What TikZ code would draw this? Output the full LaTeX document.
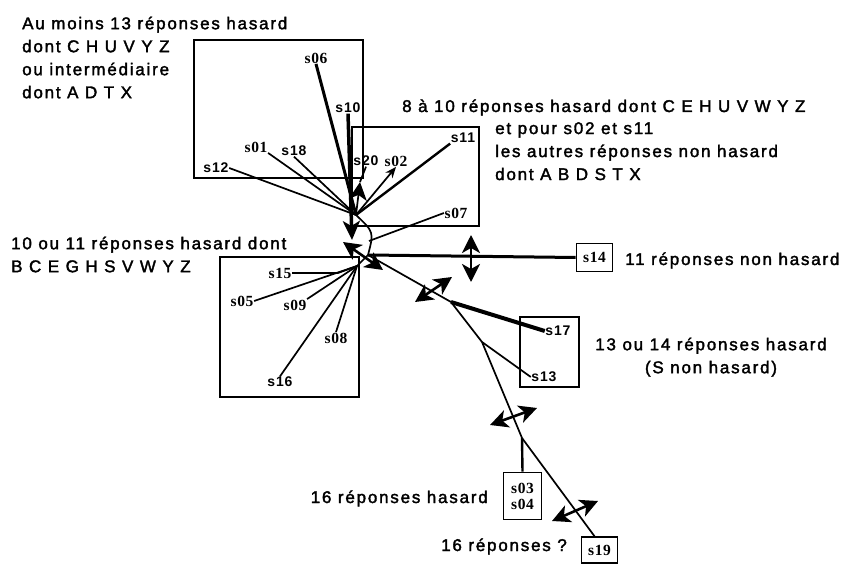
\documentclass[tikz,border=0pt]{standalone}
\usepackage{fontspec}
\setmainfont{Liberation Sans}
\newfontfamily\txtfont{Liberation Sans}[LetterSpace=10.5,FakeBold=2]
\newfontfamily\labfont{Liberation Serif}[LetterSpace=4]
\newfontfamily\labsfont{Liberation Sans}[LetterSpace=6]
\usetikzlibrary{arrows.meta}

\tikzset{
  txt/.style={font=\txtfont\fontsize{17}{23}\selectfont,inner sep=0pt,align=left},
  lab/.style={font=\labfont\bfseries\fontsize{15.5}{16}\selectfont,inner sep=0.5pt},
  labs/.style={font=\labsfont\bfseries\fontsize{14}{15}\selectfont,inner sep=0.5pt},
  leafbox/.style={lab,draw,line width=1.6pt,inner sep=2pt,align=center},
  frame/.style={line width=1.6pt},
  edge/.style={line width=1.7pt},
  heavy/.style={line width=3pt},
  split/.style={<->,line width=2.6pt},
}

\begin{document}
\begin{tikzpicture}[x=1pt,y=-1pt,>={Stealth[length=18pt,width=18pt,inset=5pt]}]
  \useasboundingbox (0,0) rectangle (854,564);
  % frames round the groups
  \draw[frame] (194,40) rectangle (363,178);
  \draw[frame] (352,127) rectangle (479,226);
  \draw[frame] (220,257) rectangle (359,397);
  \draw[frame] (520,317) rectangle (579,387);

  % comments on the groups
  \node[txt,anchor=north west] at (22,16.5) (txtA) {Au moins 13 réponses hasard\\dont C H U V Y Z\\ou intermédiaire\\dont A D T X};
  \node[txt,anchor=base west] at (402,112) (txtB) {8 à 10 réponses hasard dont C E H U V W Y Z};
  \node[txt,anchor=north west] at (495,122) (txtC) {et pour s02 et s11\\les autres réponses non hasard\\dont A B D S T X};
  \node[txt,anchor=north west] at (11,236.5) (txtD) {10 ou 11 réponses hasard dont\\B C E G H S V W Y Z};
  \node[txt,anchor=base west] at (625,265) (txtE) {11 réponses non hasard};
  \node[txt,anchor=north,align=center] at (711,337.5) (txtF) {13 ou 14 réponses hasard\\(S non hasard)};
  \node[txt,anchor=base east] at (488,503) (txtG) {16 réponses hasard};
  \node[txt,anchor=base east] at (567,551) (txtH) {16 réponses ?};

  % leaves
  \node[lab]  at (316,58)  (s06) {s06};
  \node[labs] at (348,108) (s10) {s10};
  \node[lab]  at (256,147) (s01) {s01};
  \node[labs] at (294,151) (s18) {s18};
  \node[labs] at (216,168) (s12) {s12};
  \node[labs] at (366,161) (s20) {s20};
  \node[lab]  at (396,161) (s02) {s02};
  \node[labs] at (463,138) (s11) {s11};
  \node[lab]  at (456,213) (s07) {s07};
  \node[lab]  at (280,273) (s15) {s15};
  \node[lab]  at (242,301) (s05) {s05};
  \node[lab]  at (295,305) (s09) {s09};
  \node[lab]  at (336,338) (s08) {s08};
  \node[labs] at (280,382) (s16) {s16};
  \node[labs] at (558,331) (s17) {s17};
  \node[labs] at (544,377) (s13) {s13};
  \node[leafbox,minimum width=36pt,minimum height=28pt] at (594.5,257.5) (s14) {s14};
  \node[leafbox,minimum width=38pt,minimum height=47pt] at (522.5,496) (s0304) {s03\\s04};
  \node[leafbox,minimum width=36pt,minimum height=26pt] at (599.5,550) (s19) {s19};

  % inner points of the tree
  \coordinate (jt) at (356,215);
  \coordinate (c) at (368,255);
  \coordinate (jb) at (357,266);
  \coordinate (j1) at (451,302);
  \coordinate (j2) at (482,342);
  \coordinate (j3) at (522,438);
  \coordinate (k10) at (352,240);
  \coordinate (k20) at (360,182);
  \coordinate (k07) at (369,241);
  \coordinate (k15) at (338,273);

  % top group
  \draw[heavy] (s06.south) -- (jt);
  \draw[line width=3.5pt,->,>={Stealth[length=19pt,width=17pt,inset=5pt]}] (s10.south) -- (k10);
  \draw[edge] (s01.south east) -- (jt);
  \draw[edge] (s18.south) -- (jt);
  \draw[edge] (s12.east) -- (jt);
  \draw[edge,->] (jt) -- (k20);
  \draw[edge] (k20) -- (s20.south);
  \draw[edge,<-,>={Stealth[length=11pt,width=9pt]}] (s02.south) -- (jt);
  \draw[line width=2.4pt] (s11.south west) -- (jt);
  \draw[edge] (s07.west) -- (k07);
  \draw[edge] (jt) .. controls (374,232) .. (c);

  % bottom left group
  \draw[edge] (s15.east) -- (k15) -- (jb);
  \draw[edge] (s05.east) -- (jb);
  \draw[edge] (s09.north east) -- (jb);
  \draw[edge] (s08.north) -- (jb);
  \draw[edge] (s16.north) -- (jb);

  % trunk
  \draw[edge] (c) -- (jb);
  \draw[heavy] (c) -- (s14.west);
  \draw[edge] (c) -- (j1);
  \draw[line width=4pt] (j1) -- (s17.west);
  \draw[edge] (j1) -- (j2) -- (j3);
  \draw[edge] (j2) -- (s13.west);
  \draw[line width=2.4pt] (j3) -- (s0304.north);
  \draw[edge] (j3) -- (s19.110);

  % splits
  \coordinate (a1) at (471,235);
  \coordinate (b1) at (471,282);
  \coordinate (a2) at (415,302);
  \coordinate (b2) at (452,277);
  \coordinate (a3) at (490,425);
  \coordinate (b3) at (537,408);
  \coordinate (a4) at (552,521);
  \coordinate (b4) at (598,501);
  \coordinate (a5) at (343,242);
  \coordinate (b5) at (383,270);
  \draw[split] (a1) -- (b1);
  \draw[split] (a2) -- (b2);
  \draw[split] (a3) -- (b3);
  \draw[split] (a4) -- (b4);
  \draw[split] (a5) -- (b5);
\end{tikzpicture}
\end{document}
